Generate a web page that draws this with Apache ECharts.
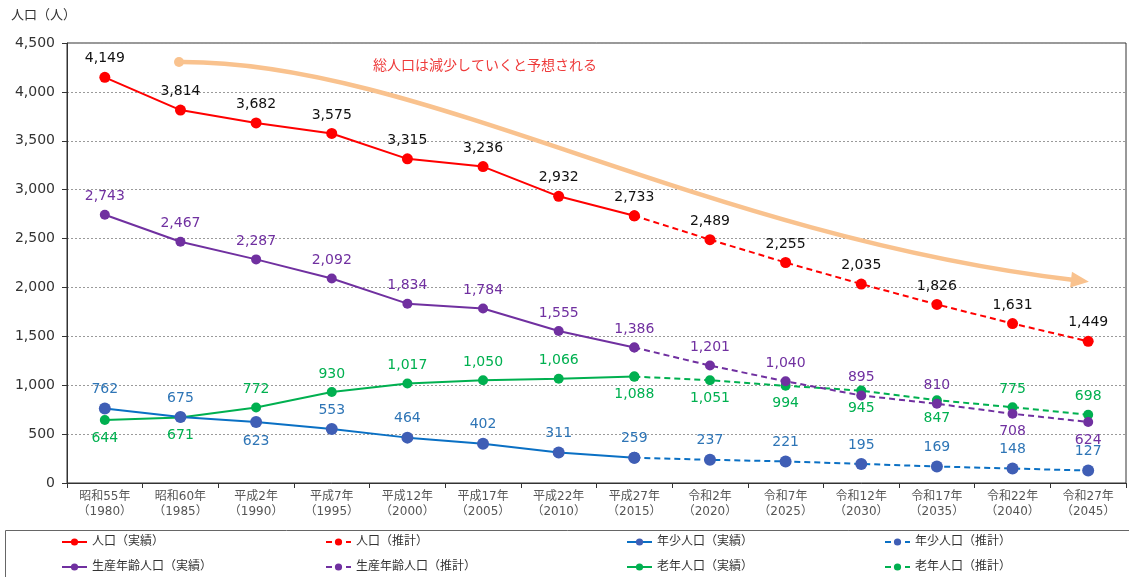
<!DOCTYPE html>
<html>
<head>
<meta charset="utf-8">
<script src="https://cdn.jsdelivr.net/npm/echarts@6/dist/echarts.min.js"></script>
<style>
  html, body { margin: 0; padding: 0; background: #fff; }
  #chart { width: 1129px; height: 577px; }
</style>
</head>
<body>
<div id="chart"></div>
<script>
// Census years (Japanese era + western year)
const categories = [
  '昭和55年\n（1980）', '昭和60年\n（1985）', '平成2年\n（1990）', '平成7年\n（1995）',
  '平成12年\n（2000）', '平成17年\n（2005）', '平成22年\n（2010）', '平成27年\n（2015）',
  '令和2年\n（2020）', '令和7年\n（2025）', '令和12年\n（2030）', '令和17年\n（2035）',
  '令和22年\n（2040）', '令和27年\n（2045）'
];

// Population by group (persons)
const totalPop   = [4149, 3814, 3682, 3575, 3315, 3236, 2932, 2733, 2489, 2255, 2035, 1826, 1631, 1449];
const workingPop = [2743, 2467, 2287, 2092, 1834, 1784, 1555, 1386, 1201, 1040, 895, 810, 708, 624];
const youngPop   = [762, 675, 623, 553, 464, 402, 311, 259, 237, 221, 195, 169, 148, 127];
const elderlyPop = [644, 671, 772, 930, 1017, 1050, 1066, 1088, 1051, 994, 945, 847, 775, 698];

// Last index with recorded (not projected) figures
const lastActual = 7;

const yTicks = { min: 0, max: 4500, interval: 500 };

const FONT = '"DejaVu Sans", "Noto Sans CJK JP", sans-serif';
const fmt = v => Number(v).toLocaleString('en-US');

// Points whose value label sits under the marker
const labelBelow = {
  total: [],
  working: [12, 13],
  young: [2],
  elderly: [0, 1, 7, 8, 9, 10, 11]
};

function buildPair(key, values, nameBase, lineColor, dotColor, labelColor, symbolSize) {
  const mk = (projected) => values.map((v, i) => {
    const inRange = projected ? i >= lastActual : i <= lastActual;
    if (!inRange) return '-';
    const showLabel = projected ? i > lastActual : true;
    return {
      value: v,
      label: {
        show: showLabel,
        position: labelBelow[key].includes(i) ? 'bottom' : 'top'
      }
    };
  });
  const common = {
    type: 'line',
    symbol: 'circle',
    symbolSize: symbolSize,
    itemStyle: { color: dotColor },
    label: {
      distance: 6,
      color: labelColor,
      fontSize: 14,
      fontFamily: FONT,
      formatter: p => fmt(p.value)
    },
    emphasis: { disabled: true },
    animation: false
  };
  return [
    Object.assign({}, common, {
      name: nameBase + '（実績）',
      data: mk(false),
      lineStyle: { color: lineColor, width: 2, type: 'solid' }
    }),
    Object.assign({}, common, {
      name: nameBase + '（推計）',
      data: mk(true),
      lineStyle: { color: lineColor, width: 2, type: [6, 4] }
    })
  ];
}

const series = [].concat(
  buildPair('elderly', elderlyPop, '老年人口', '#00B050', '#00B050', '#00B050', 10),
  buildPair('young', youngPop, '年少人口', '#0A70C4', '#3F5EB5', '#2E75B6', 12),
  buildPair('working', workingPop, '生産年齢人口', '#7030A0', '#7030A0', '#7030A0', 10),
  buildPair('total', totalPop, '人口', '#FF0000', '#FF0000', '#111111', 11)
);

// Legend laid out as a 4 x 2 table
const legendCells = [
  ['人口（実績）', 61, 536], ['人口（推計）', 325, 536],
  ['年少人口（実績）', 626, 536], ['年少人口（推計）', 884, 536],
  ['生産年齢人口（実績）', 61, 561], ['生産年齢人口（推計）', 325, 561],
  ['老年人口（実績）', 626, 561], ['老年人口（推計）', 884, 561]
];
const legends = legendCells.map(([name, left, top]) => ({
  data: [name],
  left: left,
  top: top,
  padding: 0,
  itemWidth: 25,
  itemHeight: 9,
  itemGap: 0,
  selectedMode: false,
  textStyle: { fontSize: 12, color: '#333', fontFamily: FONT }
}));

// Trend arrow annotation: one cubic curve ending in an arrowhead
const arrow = { x1: 179, y1: 62, cpx1: 420, cpy1: 60, cpx2: 700, cpy2: 236, x2: 1074, y2: 280 };
const dx = arrow.x2 - arrow.cpx2, dy = arrow.y2 - arrow.cpy2;
const len = Math.hypot(dx, dy);
const ux = dx / len, uy = dy / len, nx = -uy, ny = ux;
const tip = [arrow.x2 + 15 * ux, arrow.y2 + 15 * uy];
const base = [arrow.x2 - 3 * ux, arrow.y2 - 3 * uy];
const ARROW_COLOR = '#F9C28E';

const option = {
  backgroundColor: '#fff',
  textStyle: { fontFamily: FONT },
  grid: {
    left: 67, right: 3, top: 43, bottom: 94,
    show: true, borderColor: '#333', borderWidth: 1
  },
  legend: legends,
  xAxis: {
    type: 'category',
    data: categories,
    boundaryGap: true,
    axisLine: { lineStyle: { color: '#333', width: 1 } },
    axisTick: { show: true, length: 5, lineStyle: { color: '#333' } },
    axisLabel: { fontSize: 12, color: '#555', lineHeight: 15, margin: 6, fontFamily: FONT }
  },
  yAxis: {
    type: 'value',
    min: yTicks.min, max: yTicks.max, interval: yTicks.interval,
    axisLine: { show: true, lineStyle: { color: '#333', width: 1 } },
    axisTick: { show: true, length: 5, lineStyle: { color: '#333' } },
    axisLabel: { fontSize: 14, color: '#333', margin: 12, formatter: v => fmt(v), fontFamily: FONT },
    splitLine: { show: true, lineStyle: { color: '#9a9a9a', type: [2, 2], width: 1 } }
  },
  series: series,
  graphic: [
    {
      type: 'text', silent: true,
      left: 11, top: 9,
      style: { text: '人口（人）', fontSize: 13, fill: '#333', fontFamily: FONT }
    },
    {
      type: 'bezierCurve', z: 1, silent: true,
      shape: arrow,
      style: { stroke: ARROW_COLOR, lineWidth: 4.5, fill: null }
    },
    {
      type: 'polygon', z: 1, silent: true,
      shape: { points: [tip, [base[0] + 8 * nx, base[1] + 8 * ny], [base[0] - 8 * nx, base[1] - 8 * ny]] },
      style: { fill: ARROW_COLOR }
    },
    {
      type: 'circle', z: 1, silent: true,
      shape: { cx: arrow.x1, cy: arrow.y1, r: 5 },
      style: { fill: ARROW_COLOR }
    },
    {
      type: 'text', z: 3, silent: true,
      left: 373, top: 59,
      style: { text: '総人口は減少していくと予想される', fontSize: 14, fill: '#EE3A3A', fontFamily: FONT }
    },
    {
      type: 'rect', z: 0, silent: true,
      shape: { x: 5.5, y: 530.5, width: 1130, height: 60 },
      style: { fill: null, stroke: '#666', lineWidth: 1 }
    }
  ]
};

const chart = echarts.init(document.getElementById('chart'), null, { renderer: 'canvas' });
chart.setOption(option);
</script>
</body>
</html>
